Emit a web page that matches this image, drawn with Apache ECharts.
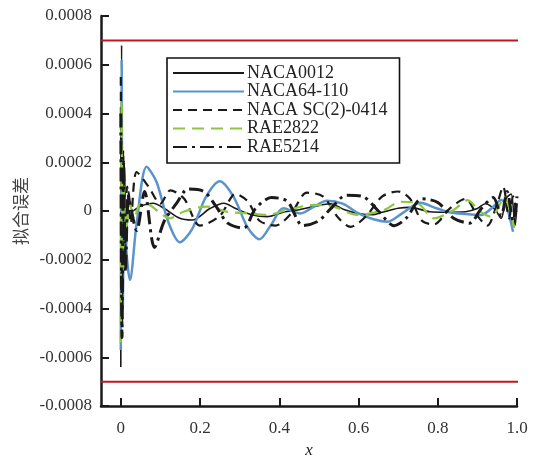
<!DOCTYPE html>
<html>
<head>
<meta charset="utf-8">
<script src="https://cdn.jsdelivr.net/npm/echarts@6/dist/echarts.min.js"></script>
<style>html,body{margin:0;padding:0;background:#fff}#c{width:535px;height:457px}</style>
</head>
<body>
<div id="c"></div>
<script>
var seriesNames = ['NACA0012', 'NACA64-110', 'NACA SC(2)-0414', 'RAE2822', 'RAE5214'];
var xTickValues = [0, 0.2, 0.4, 0.6, 0.8, 1.0];
var limitX = [-0.05, 1.005];
var upperLimit = 0.0007;
var lowerLimit = -0.0007;

var naca0012 = [[0,-6.4e-4],[0.002,6.8e-4],[0.005,-3.5e-4],[0.009,2.0e-4],[0.014,-1.5e-4],[0.02,0.8e-4],[0.03,0.0],[0.05,0.2e-4],[0.082,0.32e-4],[0.11,0.1e-4],[0.149,-0.3e-4],[0.18,-0.37e-4],[0.225,0.1e-4],[0.26,0.32e-4],[0.29,0.1e-4],[0.33,-0.15e-4],[0.369,-0.23e-4],[0.41,-0.05e-4],[0.45,0.05e-4],[0.487,0.18e-4],[0.529,0.3e-4],[0.565,0.05e-4],[0.6,-0.1e-4],[0.635,-0.15e-4],[0.66,-0.05e-4],[0.7,0.11e-4],[0.73,0.15e-4],[0.78,-0.03e-4],[0.82,-0.05e-4],[0.87,-0.03e-4],[0.9,0.1e-4],[0.92,0.3e-4],[0.945,0.05e-4],[0.96,-0.3e-4],[0.972,0.5e-4],[0.985,0.7e-4],[0.995,-0.6e-4],[1.0,0.3e-4]];
var naca64 = [[0,-5.7e-4],[0.002,6.2e-4],[0.005,-4.0e-4],[0.009,0.6e-4],[0.014,-1.6e-4],[0.023,-2.83e-4],[0.04,-0.5e-4],[0.065,1.82e-4],[0.09,1.2e-4],[0.12,-0.45e-4],[0.149,-1.28e-4],[0.18,-0.74e-4],[0.215,0.58e-4],[0.25,1.22e-4],[0.285,0.57e-4],[0.32,-0.67e-4],[0.35,-1.16e-4],[0.38,-0.55e-4],[0.41,0.11e-4],[0.453,-0.1e-4],[0.49,0.2e-4],[0.52,0.42e-4],[0.56,0.3e-4],[0.6,-0.1e-4],[0.64,-0.35e-4],[0.673,-0.44e-4],[0.71,-0.1e-4],[0.757,0.34e-4],[0.79,0.15e-4],[0.83,-0.05e-4],[0.87,-0.12e-4],[0.91,-0.16e-4],[0.935,0.1e-4],[0.96,0.45e-4],[0.975,0.1e-4],[0.99,-0.85e-4]];
var nacaSC = [[0,5.5e-4],[0.003,-4.8e-4],[0.006,2.5e-4],[0.01,-2.2e-4],[0.016,1.0e-4],[0.025,-0.5e-4],[0.04,1.6e-4],[0.07,1.0e-4],[0.1,0.3e-4],[0.125,0.85e-4],[0.16,0.5e-4],[0.2,-0.6e-4],[0.25,-0.2e-4],[0.29,0.7e-4],[0.32,0.4e-4],[0.35,-0.4e-4],[0.39,-0.6e-4],[0.43,-0.1e-4],[0.47,0.75e-4],[0.51,0.6e-4],[0.55,-0.3e-4],[0.58,-0.65e-4],[0.62,-0.2e-4],[0.66,0.6e-4],[0.7,0.8e-4],[0.73,0.5e-4],[0.76,-0.4e-4],[0.79,-0.55e-4],[0.83,0.1e-4],[0.87,0.5e-4],[0.9,-0.2e-4],[0.925,-0.6e-4],[0.95,0.3e-4],[0.965,1.0e-4],[0.98,-0.3e-4],[0.99,0.6e-4],[1.0,-0.2e-4]];
var rae2822 = [[0,-5.4e-4],[0.002,4.5e-4],[0.005,-3.0e-4],[0.009,1.0e-4],[0.014,-0.8e-4],[0.022,0.3e-4],[0.035,-0.2e-4],[0.05,0.3e-4],[0.073,0.25e-4],[0.1,-0.1e-4],[0.124,-0.3e-4],[0.158,-0.03e-4],[0.217,0.18e-4],[0.268,-0.03e-4],[0.318,-0.09e-4],[0.369,-0.16e-4],[0.42,0.04e-4],[0.487,0.25e-4],[0.537,0.18e-4],[0.597,-0.16e-4],[0.664,0.04e-4],[0.706,0.38e-4],[0.749,0.32e-4],[0.79,-0.3e-4],[0.84,0.04e-4],[0.875,0.45e-4],[0.905,0.0],[0.934,-0.23e-4],[0.968,0.52e-4],[0.993,-0.7e-4]];
var rae5214 = [[0,4.0e-4],[0.003,-5.2e-4],[0.007,2.0e-4],[0.012,-2.5e-4],[0.02,0.5e-4],[0.04,-0.8e-4],[0.06,0.8e-4],[0.085,-1.5e-4],[0.11,-0.4e-4],[0.14,0.3e-4],[0.17,0.9e-4],[0.21,0.8e-4],[0.24,0.2e-4],[0.27,-0.5e-4],[0.31,-0.7e-4],[0.34,0.1e-4],[0.38,0.55e-4],[0.42,0.4e-4],[0.46,-0.6e-4],[0.5,-0.4e-4],[0.53,0.1e-4],[0.57,0.65e-4],[0.61,0.6e-4],[0.65,0.0],[0.69,-0.6e-4],[0.72,-0.3e-4],[0.76,0.5e-4],[0.8,0.35e-4],[0.84,-0.3e-4],[0.88,-0.5e-4],[0.91,0.1e-4],[0.94,0.55e-4],[0.96,-0.2e-4],[0.975,0.8e-4],[0.99,-0.4e-4],[1.0,0.6e-4]];

var serif = "'Liberation Serif', 'Times New Roman', serif";
var chart = echarts.init(document.getElementById('c'), null, {renderer: 'canvas'});

function lineSeries(name, data, style, z) {
  return {
    name: name, type: 'line', data: data, symbol: 'none', smooth: 0.3,
    lineStyle: style, itemStyle: {color: style.color}, z: z, animation: false
  };
}
function limitSeries(v) {
  return {
    name: 'limit', type: 'line', symbol: 'none', silent: true, z: 1,
    data: limitX.map(function (x) { return [x, v]; }),
    lineStyle: {color: '#c0161f', width: 2}, itemStyle: {color: '#c0161f'}
  };
}

var series = [
  limitSeries(upperLimit),
  limitSeries(lowerLimit),
  lineSeries(seriesNames[0], naca0012, {color: '#1a1a1a', width: 1.6, type: 'solid'}, 2),
  lineSeries(seriesNames[1], naca64, {color: '#5b93cb', width: 2.5, type: 'solid'}, 3),
  lineSeries(seriesNames[2], nacaSC, {color: '#1a1a1a', width: 2.2, type: [9, 6]}, 4),
  lineSeries(seriesNames[3], rae2822, {color: '#8dc63f', width: 2.2, type: [12, 7]}, 5),
  lineSeries(seriesNames[4], rae5214, {color: '#1a1a1a', width: 3, type: [14, 5, 3, 5]}, 6)
];

chart.setOption({
  animation: false,
  backgroundColor: '#fff',
  grid: {left: 101, right: 18, top: 16, bottom: 51, containLabel: false, outerBoundsMode: 'none'},
  legend: {
    orient: 'vertical', left: 167, top: 58,
    padding: [6, 12, 7, 5],
    itemWidth: 71, itemHeight: 18, itemGap: 0.5,
    itemStyle: {opacity: 0},
    textStyle: {fontFamily: serif, fontSize: 18, color: '#222', padding: [0, 0, 0, -2]},
    borderColor: '#111', borderWidth: 1.6,
    data: seriesNames
  },
  xAxis: {
    type: 'value', min: -0.05, max: 1.0,
    name: 'x', nameLocation: 'middle', nameGap: 36,
    nameTextStyle: {fontFamily: serif, fontSize: 17, fontStyle: 'italic', color: '#222'},
    axisLine: {onZero: false, lineStyle: {color: '#1a1a1a', width: 2.5}},
    axisTick: {inside: true, length: 8, lineStyle: {color: '#1a1a1a', width: 2}, customValues: xTickValues},
    axisLabel: {fontFamily: serif, fontSize: 17, color: '#333', margin: 14, customValues: xTickValues,
      formatter: function (v) { return Math.abs(v - 1) < 1e-9 ? '1.0' : String(+v.toFixed(1)); }},
    splitLine: {show: false}
  },
  yAxis: {
    type: 'value', min: -0.0008, max: 0.0008, interval: 0.0002,
    name: '拟合误差', nameLocation: 'middle', nameGap: 72,
    nameTextStyle: {fontFamily: "'Noto Sans CJK SC', sans-serif", fontSize: 17, color: '#444'},
    axisLine: {onZero: false, lineStyle: {color: '#1a1a1a', width: 2.5}},
    axisTick: {inside: true, length: 8, lineStyle: {color: '#1a1a1a', width: 2}},
    axisLabel: {fontFamily: serif, fontSize: 17, color: '#333', margin: 9,
      formatter: function (v) { return Math.abs(v) < 1e-12 ? '0' : v.toFixed(4); }},
    splitLine: {show: false}
  },
  series: series
});
</script>
</body>
</html>
